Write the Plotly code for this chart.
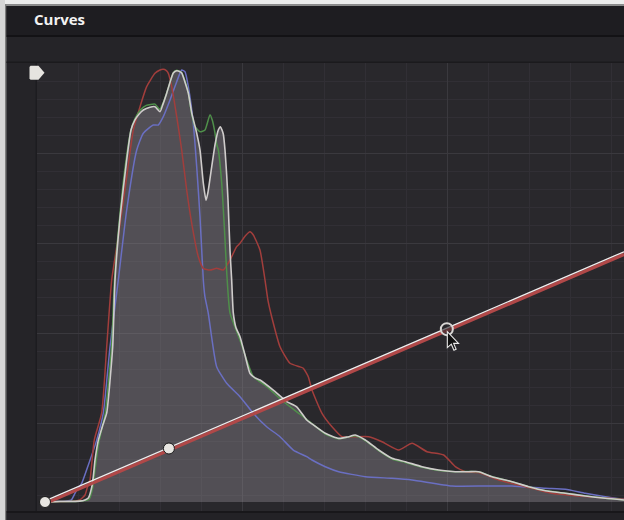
import plotly.graph_objects as go

# ---------------- data (input level %, normalized count %) ----------------
luma_x = [0, 2.6, 6.0, 6.9, 7.48, 8.07, 8.34, 8.64, 9.21, 10.0, 10.66, 11.69, 12.09, 12.95, 14.11, 14.85,
          15.54, 16.23, 16.98, 18.13, 18.99, 19.86, 20.38, 21.02, 21.59, 22.16, 22.75, 23.14, 23.61, 24.18,
          24.75, 25.34, 26.2, 26.77, 27.34, 27.81, 28.15, 28.79, 29.36, 29.93, 30.3, 30.79, 31.09, 31.38,
          31.61, 31.95, 32.24, 32.52, 32.99, 33.68, 34.54, 35.41, 36.27, 37.13, 39.43, 41.74, 43.47, 45.2,
          46.11, 48.41, 50.73, 52.2, 53.59, 55.32, 57.63, 59.93, 62.23, 65.11, 67.99, 70.86, 73.18, 74.9,
          77.2, 80.66, 83.54, 86.41, 89.86, 93.32, 96.77, 100]
luma_y = [0, 0.1, 0.2, 0.46, 0.9, 3.4, 5.8, 9.6, 14.1, 17.6, 20.3, 35.4, 50.6, 64.7, 77.96, 84.8,
          87.08, 88.4, 89.36, 90.0, 90.11, 88.97, 90.7, 93.2, 95.7, 97.79, 98.31, 98.2, 97.79, 95.7,
          93.23, 88.7, 84.1, 80.24, 72.7, 68.8, 70.6, 76.4, 81.4, 84.8, 85.55, 83.9, 80.2, 74.5,
          68.8, 57.4, 50.6, 43.1, 39.7, 37.68, 33.5, 29.3, 28.3, 27.8, 25.5, 22.9, 21.7, 18.7,
          17.8, 15.66, 14.5, 14.8, 15.27, 14.13, 11.85, 9.96, 9.19, 8.05, 7.29, 6.91, 6.91, 6.91,
          5.77, 4.63, 3.49, 2.58, 1.98, 1.37, 0.84, 0.46]

green_x = [0, 2.6, 6.0, 7.6, 8.2, 8.6, 9.1, 9.38, 10.4, 11.5, 12.0, 12.9, 14.0, 14.8, 15.5, 16.5, 17.5,
           19.0, 19.8, 20.4, 21.0, 21.6, 22.2, 22.75, 23.6, 24.2, 24.75, 25.34, 25.91, 26.77, 27.63,
           28.5, 28.9, 29.36, 29.65, 29.93, 30.52, 31.0, 31.4, 31.95, 33.68, 35.98, 38.29, 41.16,
           44.04, 46.11, 48.41, 50.73, 53.59, 55.32, 57.63, 59.93, 62.23, 65.11, 67.99, 70.86, 73.18,
           74.9, 77.2, 80.66, 83.54, 86.41, 89.86, 93.32, 96.77, 100]
green_y = [0, 0.1, 0.2, 0.6, 3.0, 7.0, 12.0, 14.1, 20.3, 35.4, 50.6, 65.0, 78.0, 84.5, 87.3, 89.4, 90.4,
           90.7, 89.5, 91.0, 93.2, 95.7, 97.9, 98.4, 97.9, 95.9, 93.3, 88.3, 85.55, 84.4, 84.8,
           88.3, 87.0, 84.1, 81.5, 80.24, 72.7, 62.0, 52.0, 43.1, 36.9, 28.6, 26.3, 22.9,
           20.0, 17.9, 15.5, 14.4, 15.1, 14.0, 11.7, 9.8, 9.0, 7.9, 7.2, 6.9, 6.95,
           6.9, 5.8, 4.6, 3.5, 2.6, 2.0, 1.4, 0.85, 0.5]

red_x = [0, 2.6, 5.2, 6.0, 6.91, 7.43, 7.77, 8.51, 9.79, 10.66, 11.52, 12.66, 14.11, 15.25, 16.41, 17.56,
         18.99, 19.86, 20.43, 20.9, 21.3, 21.88, 22.75, 23.61, 24.47, 25.34, 26.48, 27.34, 28.5, 29.65,
         30.79, 31.95, 33.1, 33.68, 34.54, 35.41, 35.98, 37.13, 38.0, 38.5, 39.15, 40.59, 42.31, 44.04,
         44.61, 45.47, 46.11, 47.84, 49.57, 51.3, 53.59, 55.91, 58.2, 61.09, 63.39, 65.98, 68.86, 70.86,
         72.59, 74.9, 78.36, 82.95, 87.56, 92.18, 100]
red_y = [0, 0.1, 0.2, 0.46, 1.6, 3.9, 5.0, 14.1, 20.3, 35.4, 50.6, 60.5, 74.15, 84.8, 90.11, 94.67,
         97.72, 98.47, 98.63, 98.4, 97.72, 94.67, 87.83, 80.24, 71.12, 63.53, 55.92, 53.27, 52.88, 53.27,
         52.88, 55.16, 58.2, 58.97, 60.6, 61.61, 60.86, 57.44, 50.6, 46.0, 42.24, 35.4, 31.62, 30.8,
         30.48, 28.56, 25.53, 20.22, 17.16, 14.88, 14.88, 14.88, 13.75, 11.85, 13.38, 11.47, 10.71, 8.05,
         6.91, 6.7, 5.01, 3.49, 1.98, 1.37, 0.62]

blue_x = [0, 2.6, 4.5, 5.47, 6.34, 7.5, 8.93, 10.07, 11.23, 12.66, 14.11, 15.84, 16.98, 18.7, 19.57,
          20.43, 21.59, 22.75, 23.61, 24.18, 24.75, 25.61, 26.2, 26.77, 27.34, 27.6, 28.2, 29.65, 31.38,
          33.68, 35.98, 38.29, 40.59, 42.88, 45.2, 46.11, 48.41, 50.73, 55.32, 59.93, 63.39, 70.29,
          76.05, 80.66, 86.41, 89.86, 93.32, 96.77, 100]
blue_y = [0, 0.15, 0.4, 2.74, 4.26, 8.5, 14.1, 20.3, 35.4, 50.6, 66.56, 80.24, 84.05, 85.94, 85.94,
          87.83, 91.63, 95.81, 98.47, 98.09, 94.67, 86.32, 76.43, 65.03, 50.6, 47.0, 43.01, 30.84, 27.06,
          24.0, 20.22, 17.16, 14.88, 11.85, 10.33, 9.57, 8.05, 6.91, 5.77, 5.40, 5.01, 3.65,
          3.65, 3.65, 3.12, 2.89, 1.98, 1.21, 0.62]

# curve control points (input %, output in same units)
curve_x = [0, 21.4, 69.4, 100]
curve_y = [0, 12.2, 39.4, 56.8]
handle_x = [0, 21.4]
handle_y = [0, 12.2]
active_x = [69.4]
active_y = [39.4]

# ---------------- layout geometry (pixels) ----------------
W, H = 624, 520
L, T, B = 37, 63, 9
PW, PH = W - L, H - T - B
X_RANGE = [-1.382, 100]
Y_RANGE = [-2.05, 100.07]


def pxx(p):
    return (p - L) / PW


def pxy(p):
    return (H - B - p) / PH


def data_to_px(x, y):
    return (L + (x - X_RANGE[0]) / (X_RANGE[1] - X_RANGE[0]) * PW,
            T + (Y_RANGE[1] - y) / (Y_RANGE[1] - Y_RANGE[0]) * PH)


fig = go.Figure()

# luma fill
fig.add_trace(go.Scatter(x=luma_x, y=luma_y, mode="lines", fill="tozeroy",
                         fillcolor="rgba(150,144,152,0.38)", line=dict(width=0, shape="spline", smoothing=0.5),
                         hoverinfo="skip", showlegend=False))
for xs, ys, col in [(blue_x, blue_y, "#6a6fc2"), (red_x, red_y, "#a23e3c"), (green_x, green_y, "#4f8f4a")]:
    fig.add_trace(go.Scatter(x=xs, y=ys, mode="lines",
                             line=dict(color=col, width=1.5, shape="spline", smoothing=0.5),
                             hoverinfo="skip", showlegend=False))
fig.add_trace(go.Scatter(x=luma_x, y=luma_y, mode="lines",
                         line=dict(color="#cfcccb", width=1.6, shape="spline", smoothing=0.5),
                         hoverinfo="skip", showlegend=False))

# the curve: red line with white highlight
fig.add_trace(go.Scatter(x=curve_x, y=[v - 0.35 for v in curve_y], mode="lines",
                         line=dict(color="#b04848", width=3.4), hoverinfo="skip", showlegend=False))
fig.add_trace(go.Scatter(x=curve_x, y=[v + 0.25 for v in curve_y], mode="lines",
                         line=dict(color="#f2eeee", width=1.3), hoverinfo="skip", showlegend=False))

# handles
fig.add_trace(go.Scatter(x=handle_x, y=handle_y, mode="markers", cliponaxis=False,
                         marker=dict(size=11, color="#e8e6e2", line=dict(color="#1a1a1a", width=1)),
                         hoverinfo="skip", showlegend=False))
fig.add_trace(go.Scatter(x=active_x, y=active_y, mode="markers",
                         marker=dict(size=12, color="rgba(40,38,44,0.6)", line=dict(color="#d8d6d4", width=2)),
                         hoverinfo="skip", showlegend=False))

# ---------------- chrome ----------------
shapes = []


def rect(x0, y0, x1, y1, color):
    shapes.append(dict(type="rect", xref="paper", yref="paper", x0=pxx(x0), x1=pxx(x1),
                       y0=pxy(y1), y1=pxy(y0), fillcolor=color, line=dict(width=0), layer="below"))


def poly(points, fill, line_color=None, line_width=0, layer="above"):
    d = "M " + " L ".join(f"{pxx(a):.5f},{pxy(b):.5f}" for a, b in points) + " Z"
    shapes.append(dict(type="path", xref="paper", yref="paper", path=d, fillcolor=fill,
                       line=dict(color=line_color or fill, width=line_width), layer=layer))


rect(0, 0, W, 4.5, "#ececec")
rect(0, 4.5, W, 6, "#8c8c8c")
rect(0, 0, 5, H, "#d6d6d6")
rect(5, 4.5, 6.5, H, "#7e7e7e")
rect(6.5, 6, W, 35, "#1e1d21")
rect(6.5, 35, W, 37, "#131215")
rect(6.5, 61.5, W, 63, "#1b1a1d")
rect(35.5, 63, 37, 511, "#1d1c20")
rect(6.5, 511, W, 513, "#18171a")
rect(6.5, 513, W, H, "#232226")

# white-point flag (UI element)
poly([(29.5, 67), (30.5, 65.8), (38.5, 65.8), (44.5, 72.8), (38.5, 79.8), (30.5, 79.8), (29.5, 78.6)],
     "#e6e4e0")

# mouse cursor at the active handle
cx, cy = data_to_px(active_x[0], active_y[0])
cx, cy = cx + 0.5, cy + 2.5
cursor = [(0, 0), (0, 16), (4, 12.5), (6.6, 18.5), (8.8, 17.5), (6.3, 11.7), (11.2, 11.7)]
poly([(cx + a, cy + b) for a, b in cursor], "#111111", "#e8e8e8", 1.1)

fig.update_layout(
    width=W, height=H,
    margin=dict(l=L, r=0, t=T, b=B, pad=0),
    paper_bgcolor="#252428",
    plot_bgcolor="#29282c",
    shapes=shapes,
    annotations=[dict(text="<b>Curves</b>", xref="paper", yref="paper", x=pxx(32), y=pxy(19),
                      xanchor="left", yanchor="middle", showarrow=False,
                      font=dict(family="Open Sans", size=15, color="#f2f2f2"))],
    xaxis=dict(range=X_RANGE, showticklabels=False, ticks="", zeroline=False, showline=False,
               tick0=-1.33, dtick=35.405, showgrid=True, gridcolor="#3a393e", gridwidth=1,
               minor=dict(tick0=-1.33, dtick=7.081, showgrid=True, gridcolor="#312f35", gridwidth=1),
               fixedrange=True),
    yaxis=dict(range=Y_RANGE, showticklabels=False, ticks="", zeroline=False, showline=False,
               tick0=100, dtick=20.515, showgrid=True, gridcolor="#3a393e", gridwidth=1,
               minor=dict(tick0=100, dtick=4.103, showgrid=True, gridcolor="#312f35", gridwidth=1),
               fixedrange=True),
)

fig.write_html("out.html", config={"displayModeBar": False},
               post_script="document.body.style.margin='0';document.body.style.padding='0';")
